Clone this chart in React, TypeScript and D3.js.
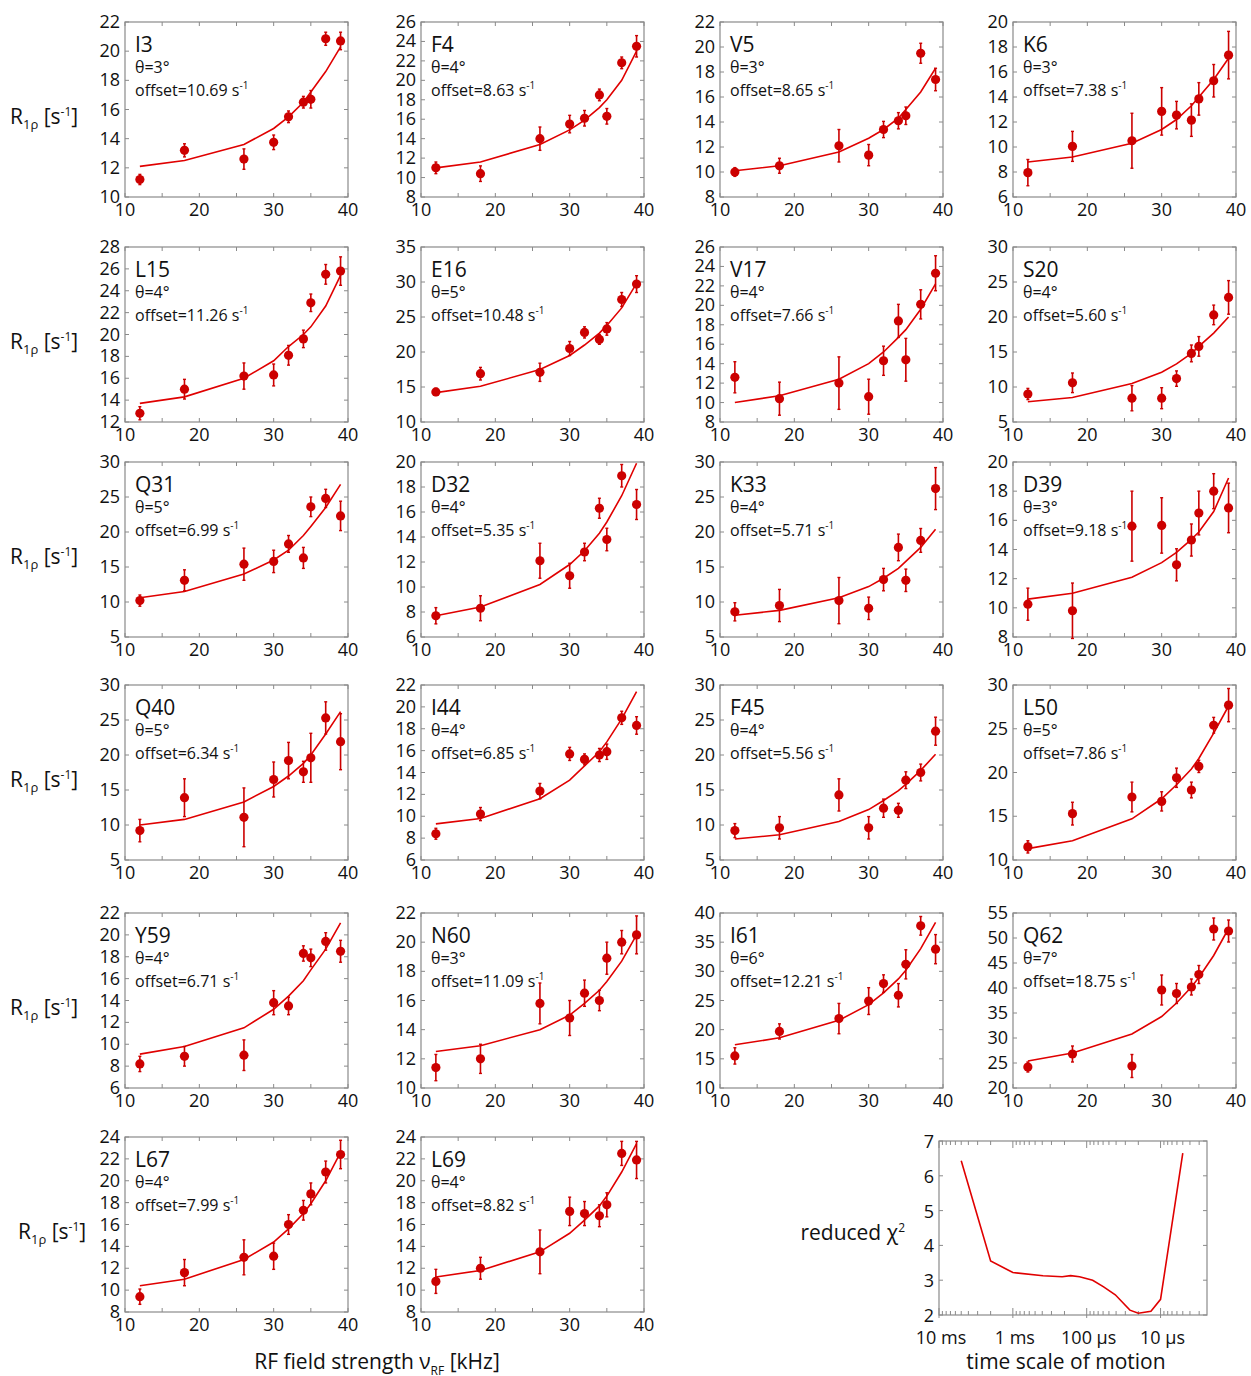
import React from "react";
import * as d3 from "d3";

// RF field strengths (kHz) shared by every residue
const xVals = [12, 18, 26, 30, 32, 34, 35, 37, 39];

const residues = ["I3", "F4", "V5", "K6", "L15", "E16", "V17", "S20", "Q31", "D32", "K33", "D39",
  "Q40", "I44", "F45", "L50", "Y59", "N60", "I61", "Q62", "L67", "L69"];
const thetas = [3, 4, 3, 3, 4, 5, 4, 4, 5, 4, 4, 3, 5, 4, 4, 5, 4, 3, 6, 7, 4, 4];
const offsets = ["10.69", "8.63", "8.65", "7.38", "11.26", "10.48", "7.66", "5.60", "6.99", "5.35", "5.71", "9.18",
  "6.34", "6.85", "5.56", "7.86", "6.71", "11.09", "12.21", "18.75", "7.99", "8.82"];

// y axis: [min, max, step]
const yAxes = [
  [10, 22, 2], [8, 26, 2], [8, 22, 2], [6, 20, 2],
  [12, 28, 2], [10, 35, 5], [8, 26, 2], [5, 30, 5],
  [5, 30, 5], [6, 20, 2], [5, 30, 5], [8, 20, 2],
  [5, 30, 5], [6, 22, 2], [5, 30, 5], [10, 30, 5],
  [6, 22, 2], [10, 22, 2], [10, 40, 5], [20, 55, 5],
  [8, 24, 2], [8, 24, 2],
];

// measured R1rho
const r1rho = [
  [11.2, 13.2, 12.6, 13.75, 15.5, 16.5, 16.7, 20.85, 20.7],
  [11.0, 10.4, 14.0, 15.5, 16.1, 18.5, 16.3, 21.8, 23.5],
  [10.0, 10.5, 12.1, 11.35, 13.4, 14.1, 14.5, 19.5, 17.4],
  [7.95, 10.05, 10.5, 12.85, 12.55, 12.15, 13.85, 15.3, 17.35],
  [12.8, 15.0, 16.2, 16.3, 18.1, 19.6, 22.9, 25.5, 25.8],
  [14.3, 16.9, 17.1, 20.5, 22.8, 21.8, 23.3, 27.5, 29.7],
  [12.6, 10.4, 12.0, 10.6, 14.3, 18.4, 14.4, 20.1, 23.3],
  [9.0, 10.6, 8.4, 8.4, 11.2, 14.8, 15.8, 20.3, 22.8],
  [10.2, 13.1, 15.4, 15.8, 18.3, 16.3, 23.6, 24.8, 22.3],
  [7.7, 8.3, 12.1, 10.9, 12.8, 16.3, 13.8, 18.9, 16.6],
  [8.6, 9.5, 10.2, 9.1, 13.2, 17.8, 13.1, 18.8, 26.2],
  [10.25, 9.8, 15.6, 15.65, 12.95, 14.65, 16.5, 18.0, 16.85],
  [9.2, 13.9, 11.1, 16.5, 19.2, 17.6, 19.6, 25.3, 21.9],
  [8.4, 10.2, 12.3, 15.7, 15.2, 15.6, 15.9, 19.0, 18.3],
  [9.2, 9.6, 14.3, 9.6, 12.4, 12.1, 16.4, 17.5, 23.4],
  [11.5, 15.3, 17.2, 16.7, 19.4, 18.0, 20.7, 25.4, 27.7],
  [8.2, 8.9, 9.0, 13.8, 13.5, 18.3, 17.9, 19.4, 18.5],
  [11.4, 12.0, 15.8, 14.8, 16.5, 16.0, 18.9, 20.0, 20.5],
  [15.5, 19.7, 21.9, 24.9, 27.9, 25.9, 31.2, 37.8, 33.8],
  [24.2, 26.8, 24.4, 39.6, 38.9, 40.2, 42.7, 51.8, 51.4],
  [9.4, 11.6, 13.0, 13.1, 16.0, 17.3, 18.8, 20.8, 22.4],
  [10.8, 12.0, 13.5, 17.2, 17.0, 16.8, 17.8, 22.5, 21.9],
];

const r1rhoErr = [
  [0.35, 0.45, 0.7, 0.5, 0.4, 0.4, 0.6, 0.45, 0.6],
  [0.6, 0.8, 1.2, 0.9, 0.8, 0.6, 0.8, 0.6, 1.1],
  [0.35, 0.6, 1.3, 0.85, 0.65, 0.65, 0.7, 0.8, 0.9],
  [1.05, 1.2, 2.2, 1.9, 1.1, 1.3, 1.3, 1.3, 1.9],
  [0.6, 0.9, 1.2, 1.0, 0.9, 0.8, 0.8, 0.9, 1.3],
  [0.5, 0.9, 1.3, 1.0, 0.8, 0.7, 0.9, 1.0, 1.2],
  [1.6, 1.7, 2.7, 1.8, 1.5, 1.7, 2.2, 1.5, 1.8],
  [0.8, 1.4, 1.8, 1.5, 1.1, 1.2, 1.4, 1.4, 2.4],
  [0.8, 1.5, 2.3, 1.6, 1.2, 1.5, 1.4, 1.3, 2.1],
  [0.65, 1.0, 1.4, 1.0, 0.7, 0.8, 0.9, 0.9, 1.2],
  [1.3, 2.3, 3.3, 1.6, 1.6, 1.9, 1.6, 1.7, 3.0],
  [1.1, 1.9, 2.4, 1.9, 1.1, 1.1, 1.5, 1.2, 1.7],
  [1.6, 2.7, 4.2, 2.5, 2.6, 1.5, 3.5, 2.3, 4.0],
  [0.5, 0.6, 0.7, 0.6, 0.5, 0.6, 0.7, 0.6, 0.8],
  [1.0, 1.6, 2.3, 1.6, 1.3, 1.0, 1.2, 1.2, 2.0],
  [0.7, 1.3, 1.7, 1.1, 1.1, 0.9, 0.7, 0.9, 1.9],
  [0.7, 0.9, 1.4, 1.1, 0.8, 0.7, 0.8, 0.8, 1.0],
  [0.9, 1.0, 1.4, 1.2, 0.9, 0.7, 1.1, 0.8, 1.3],
  [1.4, 1.3, 2.6, 2.3, 1.5, 2.0, 2.5, 1.6, 2.5],
  [1.0, 1.6, 2.3, 3.0, 2.0, 1.6, 1.8, 2.2, 2.2],
  [0.7, 1.2, 1.6, 1.2, 0.9, 0.9, 1.0, 1.0, 1.3],
  [1.1, 1.0, 2.0, 1.3, 1.1, 1.0, 1.1, 1.1, 1.7],
];

// fitted curve at the same field strengths
const r1rhoFit = [
  [12.1, 12.5, 13.6, 14.7, 15.5, 16.5, 17.2, 18.6, 20.3],
  [11.0, 11.6, 13.4, 14.9, 15.9, 17.2, 18.0, 20.0, 23.0],
  [10.1, 10.5, 11.6, 12.7, 13.4, 14.3, 15.0, 16.4, 18.3],
  [8.8, 9.2, 10.3, 11.4, 12.2, 13.3, 14.0, 15.4, 17.1],
  [13.7, 14.3, 16.0, 17.6, 18.9, 20.0, 20.7, 22.6, 25.4],
  [14.2, 15.1, 17.5, 19.5, 21.0, 22.7, 23.8, 26.3, 29.8],
  [10.0, 10.7, 12.4, 14.0, 15.2, 16.7, 17.5, 19.6, 22.2],
  [7.9, 8.5, 10.5, 12.1, 13.3, 14.8, 15.8, 17.7, 20.0],
  [10.6, 11.5, 14.0, 16.0, 17.4, 19.5, 20.8, 23.5, 26.8],
  [7.7, 8.4, 10.2, 11.8, 12.9, 14.3, 15.2, 17.3, 19.9],
  [8.1, 8.8, 10.6, 12.2, 13.4, 14.8, 15.8, 17.8, 20.4],
  [10.6, 11.0, 12.1, 13.1, 13.8, 14.7, 15.2, 16.6, 18.9],
  [10.0, 10.8, 13.3, 15.5, 17.0, 18.8, 20.0, 23.0, 26.2],
  [9.3, 9.8, 11.6, 13.3, 14.6, 15.9, 16.8, 18.9, 21.4],
  [8.0, 8.6, 10.5, 12.2, 13.5, 14.9, 15.8, 17.8, 20.1],
  [11.3, 12.2, 14.7, 17.0, 18.6, 20.4, 21.6, 24.5, 27.6],
  [9.1, 9.8, 11.5, 13.2, 14.4, 15.8, 16.8, 18.7, 21.1],
  [12.5, 12.9, 14.0, 15.0, 15.8, 16.7, 17.3, 18.7, 20.5],
  [17.4, 18.6, 21.6, 24.3, 26.3, 28.7, 30.2, 33.9, 38.4],
  [25.4, 27.0, 30.8, 34.3, 37.0, 40.2, 42.1, 46.5, 51.9],
  [10.4, 11.0, 12.8, 14.4, 15.6, 17.0, 17.9, 20.0, 22.6],
  [11.2, 11.8, 13.5, 15.2, 16.4, 17.7, 18.6, 20.8, 23.4],
];

// reduced chi^2 vs. time scale of motion (µs)
const tauUs = [5000, 2000, 1000, 390, 215, 165, 125, 83, 59, 41, 26, 20, 13.5, 10, 5];
const chi2 = [6.43, 3.55, 3.22, 3.13, 3.1, 3.13, 3.1, 3.0, 2.81, 2.58, 2.14, 2.05, 2.11, 2.45, 6.65];
const tauTicks = [10000, 1000, 100, 10];
const tauLabels = ["10 ms", "1 ms", "100 µs", "10 µs"];

const colLeft = [125, 421, 720, 1013];
const rowTop = [22, 247, 462, 685, 913, 1137];
const W = 223;
const H = 175;

const FONT = "'Open Sans', 'Noto Sans', sans-serif";
const RED = "#e00000";
const DOT = "#cc0000";
const FRAME = "#8a8a8a";

const Panel = ({ i }) => {
  const left = colLeft[i % 4];
  const top = rowTop[Math.floor(i / 4)];
  const [yMin, yMax, step] = yAxes[i];
  const x = d3.scaleLinear().domain([10, 40]).range([left, left + W]);
  const y = d3.scaleLinear().domain([yMin, yMax]).range([top + H, top]);
  const yTicks = d3.range(yMin, yMax + 0.001, step);
  const xMinor = d3.range(10, 40.1, 5);
  const line = d3.line().x((d) => x(d[0])).y((d) => y(d[1]));
  const fitPts = xVals.map((v, k) => [v, r1rhoFit[i][k]]);

  return (
    <g>
      <rect x={left} y={top} width={W} height={H} fill="none" stroke={FRAME} strokeWidth={1.2} />
      {xMinor.map((t) => (
        <g key={"x" + t} stroke={FRAME} strokeWidth={1}>
          <line x1={x(t)} x2={x(t)} y1={top + H} y2={top + H - 4} />
          <line x1={x(t)} x2={x(t)} y1={top} y2={top + 4} />
        </g>
      ))}
      {yTicks.map((t) => (
        <g key={"y" + t} stroke={FRAME} strokeWidth={1}>
          <line x1={left} x2={left + 4} y1={y(t)} y2={y(t)} />
          <line x1={left + W} x2={left + W - 4} y1={y(t)} y2={y(t)} />
        </g>
      ))}
      {yTicks.map((t) => (
        <text key={"yl" + t} x={left - 5} y={y(t) + 6} textAnchor="end" fontSize={18} fill="#111">{t}</text>
      ))}
      {[10, 20, 30, 40].map((t) => (
        <text key={"xl" + t} x={x(t)} y={top + H + 19} textAnchor="middle" fontSize={18} fill="#111">{t}</text>
      ))}
      <path d={line(fitPts)} fill="none" stroke={RED} strokeWidth={1.6} />
      {xVals.map((v, k) => {
        const cx = x(v);
        const lo = y(r1rho[i][k] - r1rhoErr[i][k]);
        const hi = y(r1rho[i][k] + r1rhoErr[i][k]);
        return (
          <g key={"p" + k}>
            <line x1={cx} x2={cx} y1={lo} y2={hi} stroke={DOT} strokeWidth={1.6} />
            <line x1={cx - 1.5} x2={cx + 1.5} y1={lo} y2={lo} stroke={DOT} strokeWidth={1.4} />
            <line x1={cx - 1.5} x2={cx + 1.5} y1={hi} y2={hi} stroke={DOT} strokeWidth={1.4} />
            <circle cx={cx} cy={y(r1rho[i][k])} r={4.6} fill={DOT} />
          </g>
        );
      })}
      <text x={left + 10} y={top + 30} fontSize={21} fill="#111">{residues[i]}</text>
      <text x={left + 10} y={top + 51} fontSize={16} fill="#111">θ={thetas[i]}°</text>
      <text x={left + 10} y={top + 74} fontSize={16} fill="#111">
        offset={offsets[i]} s<tspan dy={-7} fontSize={10}>-1</tspan>
      </text>
    </g>
  );
};

const YTitle = ({ x, y }) => (
  <text x={x} y={y} fontSize={21} fill="#111">
    R<tspan dy={5} fontSize={13}>1ρ</tspan>
    <tspan dy={-5}> [s</tspan>
    <tspan dy={-8} fontSize={12}>-1</tspan>
    <tspan dy={8}>]</tspan>
  </text>
);

const Chi2Panel = () => {
  const left = 939, top = 1141, w = 268, h = 174;
  const x = d3.scaleLog().domain([10000, 2.35]).range([left, left + w]);
  const y = d3.scaleLinear().domain([2, 7]).range([top + h, top]);
  const minor = [];
  [1, 10, 100, 1000].forEach((d) => {
    for (let m = 2; m <= 9; m++) if (m * d >= 2.35) minor.push(m * d);
  });
  const line = d3.line().x((d) => x(d[0])).y((d) => y(d[1]));
  const pts = tauUs.map((t, k) => [t, chi2[k]]);
  return (
    <g>
      <rect x={left} y={top} width={w} height={h} fill="none" stroke={FRAME} strokeWidth={1.2} />
      {d3.range(2, 8).map((t) => (
        <g key={"cy" + t}>
          <line x1={left} x2={left + 4} y1={y(t)} y2={y(t)} stroke={FRAME} />
          <line x1={left + w} x2={left + w - 4} y1={y(t)} y2={y(t)} stroke={FRAME} />
          <text x={left - 5} y={y(t) + 7} textAnchor="end" fontSize={18} fill="#111">{t}</text>
        </g>
      ))}
      {minor.map((t) => (
        <g key={"cm" + t} stroke={FRAME}>
          <line x1={x(t)} x2={x(t)} y1={top + h} y2={top + h - 4} />
          <line x1={x(t)} x2={x(t)} y1={top} y2={top + 4} />
        </g>
      ))}
      {tauTicks.map((t, k) => (
        <g key={"ct" + t}>
          <line x1={x(t)} x2={x(t)} y1={top + h + 3} y2={top + h - 7} stroke={FRAME} />
          <line x1={x(t)} x2={x(t)} y1={top} y2={top + 7} stroke={FRAME} />
          <text x={x(t) + 2} y={top + h + 29} textAnchor="middle" fontSize={18} fill="#111">{tauLabels[k]}</text>
        </g>
      ))}
      <path d={line(pts)} fill="none" stroke={RED} strokeWidth={1.6} />
      <text x={905} y={1240} textAnchor="end" fontSize={21} fill="#111">
        reduced χ<tspan dy={-8} fontSize={12}>2</tspan>
      </text>
      <text x={1066} y={1369} textAnchor="middle" fontSize={21} fill="#111">time scale of motion</text>
    </g>
  );
};

export default function App() {
  return (
    <div style={{ position: "absolute", left: 0, top: 0 }}>
      <svg width={1251} height={1376} style={{ display: "block", background: "#fff" }} fontFamily={FONT}>
        {residues.map((_, i) => <Panel key={i} i={i} />)}
        {rowTop.map((t, r) => (
          <YTitle key={r} x={r === 5 ? 18 : 10} y={t + H / 2 + 14} />
        ))}
        <text x={377} y={1369} textAnchor="middle" fontSize={21} fill="#111">
          RF field strength ν<tspan dy={6} fontSize={12}>RF</tspan>
          <tspan dy={-6}> [kHz]</tspan>
        </text>
        <Chi2Panel />
      </svg>
    </div>
  );
}
